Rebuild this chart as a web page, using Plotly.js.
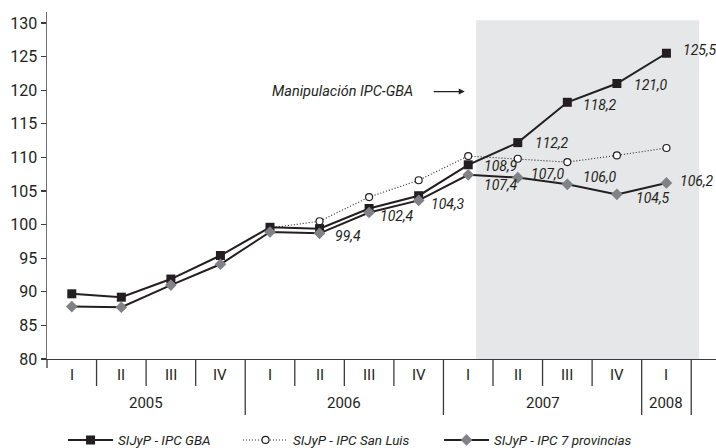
<!DOCTYPE html>
<html><head><meta charset="utf-8">
<script src="https://cdn.plot.ly/plotly-3.0.1.min.js"></script>
<style>html,body{margin:0;padding:0;background:#fff}#chart{width:716px;height:448px}</style>
</head><body><div id="chart"></div>
<script>
// ---- data ----
const quarters = ['I','II','III','IV','I','II','III','IV','I','II','III','IV','I'];
const years = ['2005','2006','2007','2008'];
const quartersPerYear = [4,4,4,1];
const ipcGBA     = [89.7,89.2,91.9,95.4,99.6,99.4,102.4,104.3,108.9,112.2,118.2,121.0,125.5];
const ipcSanLuis = [null,null,null,null,99.5,100.5,104.1,106.6,110.2,109.8,109.3,110.3,111.4];
const ipc7Prov   = [87.8,87.7,91.0,94.1,98.9,98.7,101.8,103.6,107.4,107.0,106.0,104.5,106.2];
const gbaLabels  = [null,null,null,null,null,'99,4','102,4','104,3','108,9','112,2','118,2','121,0','125,5'];
const provLabels = [null,null,null,null,null,null,null,null,'107,4','107,0','106,0','104,5','106,2'];
const seriesNames = ['SIJyP - IPC GBA','SIJyP - IPC San Luis','SIJyP - IPC 7 provincias'];
const noteText = 'Manipulación IPC-GBA';

// ---- layout helpers (positions / styles) ----
const INK = '#231f20';
const FONT = 'Roboto, "Open Sans", sans-serif';
const idx = quarters.map((q,i)=>i);
const XMIN = -0.5, XMAX = 13.0;
const PLOT_H = 347;
const px2paperY = p => -p / PLOT_H;
const xPaper = v => (v - XMIN) / (XMAX - XMIN);

const gbaOff  = {5:[13,7],6:[9,8],7:[10,8],8:[14,1],9:[15,0],10:[14,3],11:[15,2],12:[15,-3]};
const provOff = {8:[14,10],9:[11,-4],10:[14,-7],11:[17,4],12:[12,-2]};

const traces = [
  {x: idx, y: ipcSanLuis, name: seriesNames[1], mode:'lines+markers', legend:'legend2',
   line:{color:INK, width:1.1, dash:'1px,2px'},
   marker:{symbol:'circle', size:7, color:'#ffffff', line:{color:INK, width:1.2}}},
  {x: idx, y: ipcGBA, name: seriesNames[0], mode:'lines+markers', legend:'legend',
   line:{color:INK, width:2},
   marker:{symbol:'square', size:9, color:INK}},
  {x: idx, y: ipc7Prov, name: seriesNames[2], mode:'lines+markers', legend:'legend3',
   line:{color:INK, width:2},
   marker:{symbol:'diamond', size:9, color:'#808285'}}
];

const annotations = [];
const labFont = {family: FONT, size: 14, color: INK, style: 'italic'};
gbaLabels.forEach((t,i)=>{ if(t){ const o=gbaOff[i]; annotations.push({xref:'x',yref:'y',x:i,y:ipcGBA[i],text:t,showarrow:false,xanchor:'left',yanchor:'middle',xshift:o[0],yshift:-o[1],font:labFont}); }});
provLabels.forEach((t,i)=>{ if(t){ const o=provOff[i]; annotations.push({xref:'x',yref:'y',x:i,y:ipc7Prov[i],text:t,showarrow:false,xanchor:'left',yanchor:'middle',xshift:o[0],yshift:-o[1],font:labFont}); }});

// quarter labels
quarters.forEach((q,i)=>annotations.push({xref:'x',yref:'paper',x:i,y:px2paperY(15.5),text:q,showarrow:false,xanchor:'center',yanchor:'middle',font:{family:FONT,size:15,color:INK}}));
// year labels
let start = 0;
years.forEach((yr,k)=>{
  const n = quartersPerYear[k];
  annotations.push({xref:'x',yref:'paper',x:start+(n-1)/2,y:px2paperY(43.5),text:yr,showarrow:false,xanchor:'center',yanchor:'middle',font:{family:FONT,size:15,color:INK}});
  start += n;
});
// note + arrow
annotations.push({xref:'x',yref:'y',x:7.93,y:119.8,text:noteText,showarrow:false,xanchor:'right',yanchor:'middle',xshift:-50,font:{family:FONT,size:14.5,color:INK,style:'italic'}});
annotations.push({xref:'x',yref:'y',x:7.93,y:119.8,text:' ',showarrow:true,axref:'pixel',ayref:'pixel',ax:-34,ay:0,arrowhead:2,arrowsize:1,arrowwidth:1.2,arrowcolor:INK,standoff:0,startstandoff:0});

// separators
const shapes = [];
shapes.push({type:'rect',xref:'x',yref:'y',x0:8.16,x1:12.66,y0:80,y1:130.4,fillcolor:'#e6e7e8',line:{width:0},layer:'below'});
const yearBounds = new Set();
{ let s=0; quartersPerYear.forEach(n=>{ s+=n; yearBounds.add(s); }); }
for (let b=0; b<=quarters.length; b++){
  let len = yearBounds.has(b) ? 56 : 27;
  if (b===0) len = 9;
  shapes.push({type:'line',xref:'paper',yref:'paper',x0:xPaper(b-0.5),x1:xPaper(b-0.5),y0:0,y1:px2paperY(len),line:{color:'#3a3a3a',width:1.3}});
}

const legendBase = x => ({orientation:'h', x:x, xanchor:'left', y:-0.234, yanchor:'middle',
  itemwidth:45, font:{family:FONT, size:13.5, color:INK, style:'italic'}, bgcolor:'rgba(0,0,0,0)'});

const layout = {
  width:716, height:448,
  margin:{l:47, r:0, t:12, b:89, autoexpand:false},
  paper_bgcolor:'#ffffff', plot_bgcolor:'#ffffff',
  showlegend:true,
  legend: legendBase(0.024),
  legend2: legendBase(0.2855),
  legend3: legendBase(0.586),
  xaxis:{range:[XMIN, XMAX], showgrid:false, zeroline:false, showticklabels:false, ticks:'',
         showline:true, linecolor:'#3a3a3a', linewidth:1.3, fixedrange:true},
  yaxis:{range:[80, 80+PLOT_H/6.72], tickvals:[80,85,90,95,100,105,110,115,120,125,130],
         showgrid:false, zeroline:false, showline:true, linecolor:'#6d6e71', linewidth:1.5,
         ticks:'outside', ticklen:5, tickwidth:1.2, tickcolor:'#3a3a3a',
         tickfont:{family:FONT, size:16, color:INK}, fixedrange:true},
  annotations, shapes
};
Plotly.newPlot('chart', traces, layout, {staticPlot:true, displayModeBar:false});
</script></body></html>
